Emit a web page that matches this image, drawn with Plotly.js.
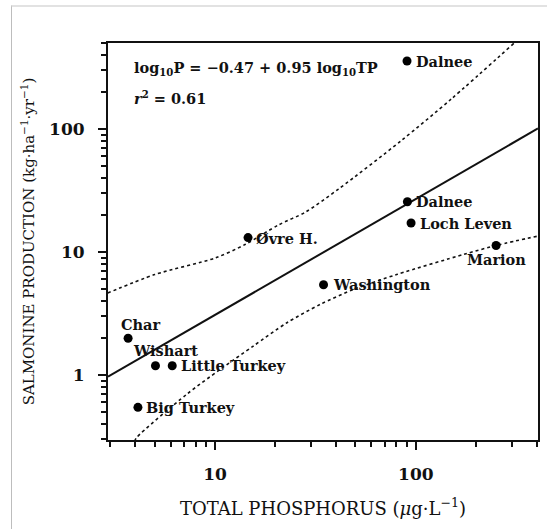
<!DOCTYPE html>
<html><head><meta charset="utf-8">
<script src="https://cdn.plot.ly/plotly-3.0.1.min.js"></script>
<style>
html,body{margin:0;padding:0;background:#fff;}
#chart{position:absolute;left:0;top:0;width:547px;height:529px;}
#frame{position:absolute;left:11px;top:5px;width:540px;height:530px;border-top:2px solid #e2e2e2;border-left:1px solid #bdbdbd;pointer-events:none;}
</style>
</head><body>
<div id="chart"></div><div id="frame"></div>
<script>
// ---- data ----
const lakes = ["Dalnee", "Dalnee", "Loch Leven", "Marion", "Øvre H.", "Washington", "Char", "Wishart", "Little Turkey", "Big Turkey"];
const totalP = [90.4, 90.8, 94.7, 251, 14.6, 34.7, 3.69, 5.05, 6.12, 4.13];
const salmonineProd = [357, 25.6, 17.2, 11.3, 13.1, 5.42, 1.99, 1.19, 1.19, 0.546];

const fitTP = [2.93, 406];
const fitProd = [0.97, 101];

const upperTP = [2.92, 5.01, 10, 14.1, 20.7, 28.2, 41.2, 84.1, 150, 309];
const upperProd = [4.64, 6.56, 8.94, 11.5, 16.6, 21.1, 32.5, 79.8, 175, 500];

const lowerTP = [3.98, 4.06, 7.22, 10.6, 15.5, 22.8, 33.5, 49.2, 81, 174, 256, 408];
const lowerProd = [0.29, 0.309, 0.697, 1.11, 1.72, 2.66, 3.76, 4.98, 6.59, 9.58, 11.4, 13.5];

const xMajor = [10, 100];
const xMajorText = ["10", "100"];
const xMinor = [3, 4, 5, 6, 7, 8, 9, 20, 30, 40, 50, 60, 70, 80, 90, 200, 300, 400];
const yMajor = [1, 10, 100];
const yMajorText = ["1", "10", "100"];
const yMinor = [0.3, 0.4, 0.5, 0.6, 0.7, 0.8, 0.9, 2, 3, 4, 5, 6, 7, 8, 9, 20, 30, 40, 50, 60, 70, 80, 90, 200, 300, 400, 500];

const xTitle = "TOTAL PHOSPHORUS (<i>μ</i>g·L<sup>−1</sup>)";
const yTitle = "SALMONINE PRODUCTION (kg·ha<sup>−1</sup>·yr<sup>−1</sup>)";
const equation = "log<sub>10</sub>P = −0.47 + 0.95 log<sub>10</sub>TP";
const rSquared = "<i>r</i><sup>2</sup> = 0.61";

// ---- label placement (style only) ----
const labelStyle = [
  {xanchor: "left", xshift: 7, yshift: 0},
  {xanchor: "left", xshift: 7, yshift: 0},
  {xanchor: "left", xshift: 7, yshift: 0},
  {xanchor: "center", xshift: 0, yshift: -14},
  {xanchor: "left", xshift: 6, yshift: -1},
  {xanchor: "left", xshift: 7, yshift: 0},
  {xanchor: "left", xshift: -9, yshift: 14},
  {xanchor: "left", xshift: -24, yshift: 15},
  {xanchor: "left", xshift: 7, yshift: 0},
  {xanchor: "left", xshift: 6, yshift: 0}
];

const serif = "DejaVu Serif";
function labelFont() { return {family: serif, size: 14.5, color: "#111", weight: "bold"}; }

const traces = [
  {x: upperTP, y: upperProd, mode: "lines", line: {color: "#111", width: 1.6, dash: "dot", shape: "spline", smoothing: 0.8}, hoverinfo: "skip"},
  {x: lowerTP, y: lowerProd, mode: "lines", line: {color: "#111", width: 1.6, dash: "dot", shape: "spline", smoothing: 0.8}, hoverinfo: "skip"},
  {x: fitTP, y: fitProd, mode: "lines", line: {color: "#111", width: 2}, hoverinfo: "skip"},
  {x: totalP, y: salmonineProd, mode: "markers", marker: {color: "#000", size: 9}, cliponaxis: false, hoverinfo: "skip"}
];

const annotations = lakes.map((name, i) => ({
  x: Math.log10(totalP[i]), y: Math.log10(salmonineProd[i]), xref: "x", yref: "y",
  text: name, showarrow: false, xanchor: labelStyle[i].xanchor, yanchor: "middle",
  xshift: labelStyle[i].xshift, yshift: labelStyle[i].yshift, font: labelFont()
}));

annotations.push(
  {xref: "paper", yref: "paper", x: 0.055, y: 0.935, xanchor: "left", yanchor: "middle", showarrow: false,
   text: equation, font: labelFont()},
  {xref: "paper", yref: "paper", x: 0.055, y: 0.862, xanchor: "left", yanchor: "middle", showarrow: false,
   text: rSquared, font: labelFont()}
);

const axisCommon = {
  type: "log", showgrid: false, zeroline: false, showline: true, mirror: true,
  linecolor: "#111", linewidth: 2, ticks: "outside", tickcolor: "#111", tickwidth: 2, ticklen: 8,
  tickfont: {family: serif, size: 17, color: "#111", weight: "bold"}, automargin: false
};

const layout = {
  width: 547, height: 529,
  margin: {l: 108, r: 9, t: 43, b: 89},
  paper_bgcolor: "#fff", plot_bgcolor: "#fff",
  showlegend: false,
  xaxis: Object.assign({}, axisCommon, {
    range: [Math.log10(2.93), Math.log10(406)],
    tickmode: "array", tickvals: xMajor, ticktext: xMajorText, ticklabelstandoff: 10,
    minor: {tickmode: "array", tickvals: xMinor, ticks: "outside", ticklen: 5, tickwidth: 2, tickcolor: "#111"},
    title: {text: xTitle, standoff: 19, font: {family: serif, size: 18, color: "#111"}}
  }),
  yaxis: Object.assign({}, axisCommon, {
    range: [-0.528, 2.699],
    tickmode: "array", tickvals: yMajor, ticktext: yMajorText, ticklabelstandoff: 10,
    minor: {tickmode: "array", tickvals: yMinor, ticks: "outside", ticklen: 5, tickwidth: 2, tickcolor: "#111"},
    title: {text: "\u00a0\u00a0\u00a0\u00a0\u00a0\u00a0" + yTitle, standoff: 11, font: {family: serif, size: 15, color: "#111"}}
  }),
  annotations: annotations
};

Plotly.newPlot("chart", traces, layout, {staticPlot: true, displayModeBar: false});
</script>
</body></html>
